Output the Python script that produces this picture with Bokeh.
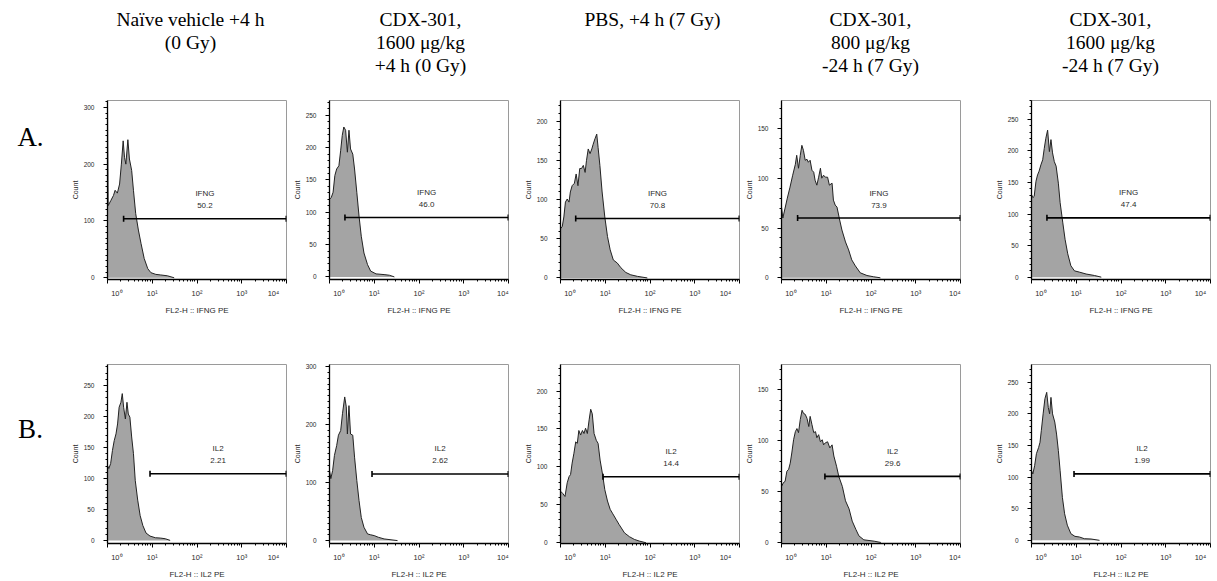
import numpy as np
from bokeh.plotting import figure
from bokeh.layouts import row, column
from bokeh.models import (Range1d, FixedTicker, SingleIntervalTicker,
                          CustomJSTickFormatter, ColumnDataSource)
from bokeh.core.properties import value
from bokeh.embed import file_html
from bokeh.resources import INLINE

# ---------------- data ----------------
col_titles = [["Naïve vehicle +4 h", "(0 Gy)"],
              ["CDX-301,", "1600 μg/kg", "+4 h (0 Gy)"],
              ["PBS, +4 h (7 Gy)"],
              ["CDX-301,", "800 μg/kg", "-24 h (7 Gy)"],
              ["CDX-301,", "1600 μg/kg", "-24 h (7 Gy)"]]
row_labels = ["A.", "B."]
markers = ["IFNG", "IL2"]
pct_A = ["50.2", "46.0", "70.8", "73.9", "47.4"]
pct_B = ["2.21", "2.62", "14.4", "29.6", "1.99"]

# gates (log10 of fluorescence) and gate height (count units)
gate_lo_A = [0.36, 0.345, 0.34, 0.36, 0.345]
gate_lo_B = [0.95, 0.95, 0.95, 0.97, 0.95]
gate_hi = 3.995
gate_y_A = [104, 92, 76, 60, 94]
gate_y_B = [107.5, 115, 87, 65, 105]

# y axis ranges and tick intervals
yr_A = [(-3, 312), (-4, 273), (-2, 227), (-1.7, 178), (-3.7, 280)]
yr_B = [(-5, 284), (-5, 304), (-1, 235), (-1, 175), (-5, 278)]
yint_A = [100, 50, 50, 50, 50]
yint_B = [50, 100, 50, 50, 50]

# histograms: log10(FL2-H) and count
A1_dec = [0, 0.015, 0.075, 0.134, 0.17, 0.22, 0.27, 0.31, 0.35, 0.38, 0.41, 0.455, 0.49, 0.54, 0.58, 0.63, 0.69, 0.75, 0.82, 0.90, 0.97, 1.08, 1.19, 1.34, 1.49]
A1_cnt = [303, 127, 136, 145, 154, 149, 165, 200, 241, 212, 200, 243, 209, 189, 154, 113, 84, 60, 34, 16, 9, 6, 5, 3.5, 0]
A2_dec = [0, 0.04, 0.08, 0.12, 0.16, 0.21, 0.25, 0.285, 0.32, 0.36, 0.40, 0.435, 0.47, 0.52, 0.56, 0.61, 0.66, 0.71, 0.77, 0.85, 0.92, 1.04, 1.22, 1.34, 1.45]
A2_cnt = [120, 123, 131, 157, 167, 172, 196, 219, 232, 227, 193, 227, 198, 190, 167, 131, 94, 63, 37, 19, 9, 4.7, 3.6, 2.6, 0]
A3_dec = [0, 0.04, 0.075, 0.11, 0.15, 0.19, 0.22, 0.26, 0.31, 0.35, 0.39, 0.43, 0.47, 0.51, 0.55, 0.58, 0.62, 0.66, 0.70, 0.73, 0.77, 0.81, 0.84, 0.88, 0.93, 0.99, 1.05, 1.11, 1.18, 1.27, 1.35, 1.46, 1.57, 1.72, 1.94]
A3_cnt = [63, 66, 78, 97, 101, 97, 110, 118, 121, 133, 118, 140, 140, 144, 135, 150, 165, 159, 165, 171, 178, 184, 167, 144, 110, 78, 53, 36, 23, 19, 13, 7, 4, 2, 0]
A4_dec = [0, 0.03, 0.08, 0.13, 0.19, 0.25, 0.31, 0.34, 0.38, 0.42, 0.455, 0.49, 0.53, 0.57, 0.60, 0.64, 0.68, 0.72, 0.75, 0.79, 0.83, 0.87, 0.90, 0.94, 0.98, 1.03, 1.07, 1.13, 1.16, 1.20, 1.24, 1.30, 1.35, 1.43, 1.50, 1.57, 1.65, 1.76, 1.91, 2.06, 2.21]
A4_cnt = [71, 60, 70, 80, 91, 103, 114, 123, 110, 123, 133, 128, 118, 119, 116, 118, 108, 106, 98, 93, 101, 110, 100, 103, 101, 101, 93, 95, 78, 73, 71, 58, 48, 36, 28, 18, 12, 5, 2.3, 1, 0]
A5_dec = [0, 0.03, 0.06, 0.10, 0.135, 0.17, 0.21, 0.25, 0.285, 0.32, 0.36, 0.40, 0.435, 0.47, 0.51, 0.55, 0.60, 0.64, 0.70, 0.75, 0.81, 0.88, 0.96, 1.07, 1.22, 1.41, 1.56]
A5_cnt = [131, 126, 128, 152, 162, 168, 178, 186, 204, 220, 233, 199, 218, 197, 183, 176, 149, 118, 86, 60, 37, 18, 10, 8, 5, 2.6, 0]

B1_dec = [0, 0.03, 0.07, 0.11, 0.15, 0.19, 0.225, 0.26, 0.30, 0.33, 0.36, 0.40, 0.435, 0.465, 0.50, 0.54, 0.58, 0.62, 0.675, 0.73, 0.79, 0.86, 0.95, 1.07, 1.18, 1.29, 1.40]
B1_cnt = [121, 116, 124, 145, 161, 172, 188, 215, 223, 237, 215, 196, 223, 204, 199, 167, 140, 97, 65, 40, 24, 12, 7, 4.3, 3.8, 2.7, 0]
B2_dec = [0, 0.03, 0.07, 0.11, 0.16, 0.20, 0.25, 0.29, 0.34, 0.375, 0.40, 0.435, 0.47, 0.52, 0.56, 0.61, 0.66, 0.71, 0.77, 0.85, 0.92, 1.0, 1.09, 1.22, 1.52]
B2_cnt = [121, 107, 121, 147, 164, 182, 190, 219, 248, 231, 184, 233, 184, 182, 144, 104, 69, 40, 23, 11.5, 10, 8.6, 5.8, 2.9, 0]
B3_dec = [0, 0.05, 0.10, 0.15, 0.19, 0.225, 0.26, 0.30, 0.34, 0.375, 0.41, 0.45, 0.49, 0.525, 0.56, 0.60, 0.64, 0.675, 0.71, 0.75, 0.80, 0.84, 0.885, 0.94, 0.99, 1.05, 1.11, 1.16, 1.24, 1.31, 1.43, 1.54, 1.65, 1.76, 1.91]
B3_cnt = [68, 65, 61, 79, 87, 90, 105, 118, 133, 131, 148, 142, 148, 144, 151, 144, 162, 176, 170, 144, 135, 131, 109, 90, 70, 55, 44, 39, 31, 24, 13, 8, 4.4, 2.2, 0]
B4_dec = [0, 0.045, 0.08, 0.12, 0.16, 0.195, 0.23, 0.27, 0.31, 0.345, 0.38, 0.42, 0.46, 0.49, 0.53, 0.57, 0.61, 0.64, 0.68, 0.72, 0.76, 0.79, 0.83, 0.87, 0.91, 0.94, 0.98, 1.03, 1.08, 1.13, 1.17, 1.23, 1.28, 1.36, 1.43, 1.51, 1.58, 1.66, 1.73, 1.84, 2.07, 2.22]
B4_cnt = [55, 59, 60, 70, 72, 78, 88, 101, 109, 112, 108, 121, 130, 127, 126, 122, 114, 124, 116, 108, 109, 103, 106, 99, 101, 96, 98, 99, 93, 96, 85, 75, 65, 55, 41, 33, 21, 13, 6.5, 2.6, 1.3, 0]
B5_dec = [0, 0.03, 0.07, 0.11, 0.16, 0.19, 0.22, 0.26, 0.30, 0.34, 0.375, 0.405, 0.435, 0.47, 0.52, 0.56, 0.60, 0.64, 0.69, 0.74, 0.80, 0.88, 0.97, 1.07, 1.18, 1.33, 1.52]
B5_cnt = [110, 105, 118, 137, 147, 155, 174, 200, 224, 234, 210, 200, 226, 200, 187, 168, 142, 110, 68, 42, 24, 10.5, 6.3, 5.3, 2.6, 2.1, 0]

hist_A = [(A1_dec, A1_cnt), (A2_dec, A2_cnt), (A3_dec, A3_cnt), (A4_dec, A4_cnt), (A5_dec, A5_cnt)]
hist_B = [(B1_dec, B1_cnt), (B2_dec, B2_cnt), (B3_dec, B3_cnt), (B4_dec, B4_cnt), (B5_dec, B5_cnt)]

# ---------------- layout constants ----------------
W_TOTAL = 1217
HDR_H = 80
LBL_W = 60
FRAME_W = 179
BORDER_L = [47, 39, 39, 39, 39]
BORDER_R = [4, 13, 3, 32, 7]
ROW_A = dict(top=20, bottom=43)
ROW_B = dict(top=42, bottom=38)
FRAME_H = 179
TITLE_X = [190, 420, 652, 870, 1110]
TITLE_Y0, TITLE_DY = 19, 23

FILL = "#a4a4a4"
EDGE = "#222222"
TXT = "#2a2a2a"
SANS = "Liberation Sans"
SERIF = "Liberation Serif"

minor_x = [m * 10 ** k for k in range(4) for m in range(2, 10)]

tick_fmt = CustomJSTickFormatter(code=r"""
const sup = ["\u2070", "\u00b9", "\u00b2", "\u00b3", "\u2074"];
const e = Math.round(Math.log10(tick));
const s = "10" + sup[e];
if (e == 0) { return "\u2003\u2003\u2002" + s; }
if (e == 4) { return s + "\u2003\u2002"; }
return s;
""")


def blank(width, height, xr, yr):
    p = figure(width=width, height=height, x_range=Range1d(*xr), y_range=Range1d(*yr),
               output_backend="svg", toolbar_location=None, min_border=0,
               x_axis_location=None, y_axis_location=None)
    p.grid.visible = False
    p.outline_line_color = None
    p.background_fill_color = "white"
    p.border_fill_color = "white"
    return p


def panel(i, dec, cnt, yr, yint, marker, pct, glo, gy, borders):
    h = borders["top"] + FRAME_H + borders["bottom"]
    p = figure(width=BORDER_L[i] + FRAME_W + BORDER_R[i], height=h,
               x_axis_type="log", x_range=Range1d(1, 1e4), y_range=Range1d(*yr),
               output_backend="svg", toolbar_location=None,
               min_border_left=BORDER_L[i], min_border_right=BORDER_R[i],
               min_border_top=borders["top"], min_border_bottom=borders["bottom"])
    p.grid.visible = False
    p.outline_line_color = "#9a9a9a"
    p.outline_line_width = 1
    p.background_fill_color = "white"
    p.border_fill_color = "white"

    src = ColumnDataSource(dict(x=[10 ** d for d in dec], y=cnt))
    p.varea(x="x", y1=0, y2="y", source=src, fill_color=FILL)
    p.line(x="x", y="y", source=src, line_color=EDGE, line_width=1)

    x0, x1 = 10 ** glo, 10 ** gate_hi
    p.segment(x0=[x0], y0=[gy], x1=[x1], y1=[gy], line_color="black", line_width=1.6)
    p.scatter(x=[x0, x1], y=[gy, gy], marker="dash", angle=np.pi / 2, size=6,
              line_color="black", line_width=1.6)
    xm = 10 ** ((glo + gate_hi) / 2)
    p.text(x=[xm], y=[gy], text=[marker], y_offset=-25, text_align="center",
           text_baseline="middle", text_font=value(SANS), text_font_size="8px",
           text_color=TXT)
    p.text(x=[xm], y=[gy], text=[pct], y_offset=-13, text_align="center",
           text_baseline="middle", text_font=value(SANS), text_font_size="8px",
           text_color=TXT)

    xa = p.xaxis[0]
    xa.ticker = FixedTicker(ticks=[1, 10, 100, 1000, 10000], minor_ticks=minor_x)
    xa.formatter = tick_fmt
    xa.axis_label = "FL2-H :: " + marker + " PE"
    xa.major_label_text_font_size = "7.5px"
    xa.major_label_standoff = 5
    xa.axis_label_standoff = 5
    xa.axis_label_text_font_size = "8px"

    ya = p.yaxis[0]
    ya.ticker = SingleIntervalTicker(interval=yint, num_minor_ticks=10 if yint == 100 else 5)
    ya.axis_label = "Count"
    ya.major_label_text_font_size = "6.5px"
    ya.major_label_standoff = 9
    ya.axis_label_standoff = 2
    ya.axis_label_text_font_size = "7px"

    for ax in (xa, ya):
        ax.axis_line_color = "black"
        ax.axis_line_width = 1.3
        ax.major_tick_line_color = "black"
        ax.major_tick_out = 4
        ax.major_tick_in = 0
        ax.minor_tick_line_color = "black"
        ax.minor_tick_out = 2
        ax.minor_tick_in = 0
        ax.major_label_text_font = SANS
        ax.major_label_text_color = TXT
        ax.axis_label_text_font = SANS
        ax.axis_label_text_font_style = "normal"
        ax.axis_label_text_color = TXT
    return p


# header with column titles
hdr = blank(W_TOTAL, HDR_H, (0, W_TOTAL), (HDR_H, 0))
tx, ty, tt = [], [], []
for i, lines in enumerate(col_titles):
    for j, s in enumerate(lines):
        tx.append(TITLE_X[i]); ty.append(TITLE_Y0 + TITLE_DY * j); tt.append(s)
hdr.text(x=tx, y=ty, text=tt, text_align="center", text_baseline="middle",
         text_font=value(SERIF), text_font_size="19.5px", text_color="black")

rows = []
for r, (borders, hists, yrs, yints, pcts, glos, gys, lab_y) in enumerate([
        (ROW_A, hist_A, yr_A, yint_A, pct_A, gate_lo_A, gate_y_A, 50),
        (ROW_B, hist_B, yr_B, yint_B, pct_B, gate_lo_B, gate_y_B, 93)]):
    h = borders["top"] + FRAME_H + borders["bottom"]
    lab = blank(LBL_W, h, (0, LBL_W), (h, 0))
    lab.text(x=[30], y=[lab_y], text=[row_labels[r]], text_align="center",
             text_baseline="middle", text_font=value(SERIF), text_font_size="27px",
             text_color="black")
    figs = [lab]
    for i in range(5):
        dec, cnt = hists[i]
        figs.append(panel(i, dec, cnt, yrs[i], yints[i], markers[r], pcts[i],
                          glos[i], gys[i], borders))
    rows.append(row(*figs, spacing=0))

layout = column(hdr, *rows, spacing=0)
open("out.html", "w").write(file_html(layout, INLINE))
